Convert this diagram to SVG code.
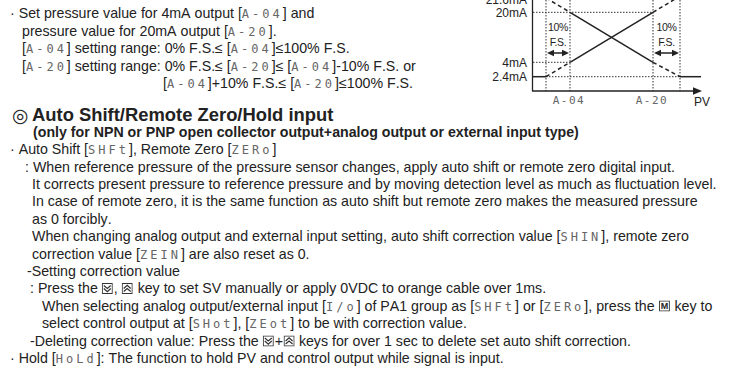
<svg xmlns="http://www.w3.org/2000/svg" width="732" height="369" viewBox="0 0 732 369">
<style>
.t{font-family:"Liberation Sans",Arial,sans-serif;font-size:14.2px;fill:#222;font-kerning:none;font-variant-ligatures:none}
.b{font-weight:bold}
.seg{font-family:"DejaVu Sans Mono",monospace;font-size:12px;fill:#666;letter-spacing:3px;font-weight:normal}
.ax{stroke:#222;stroke-width:1.3;fill:none}
.dot{stroke:#333;stroke-width:1;stroke-dasharray:1.5 1.5;fill:none}
.sol{stroke:#222;stroke-width:1.5;fill:none}
.dsh{stroke:#222;stroke-width:1.5;stroke-dasharray:4 3;fill:none}
.cl{font-family:"Liberation Sans",Arial,sans-serif;font-size:12px;fill:#222}
.sm{font-size:10.5px;letter-spacing:-0.4px}
.key{fill:#fff;stroke:#333;stroke-width:1}
.chev{fill:none;stroke:#333;stroke-width:1.2}
.ah{fill:#222}
</style>
<defs>
<symbol id="kd" viewBox="0 0 11 11" width="11" height="11"><rect class="key" x="0.5" y="0.5" width="10" height="10"/><polyline class="chev" points="2,2.5 5.5,5.5 9,2.5"/><polyline class="chev" points="2,5.5 5.5,8.8 9,5.5"/></symbol>
<symbol id="ku" viewBox="0 0 11 11" width="11" height="11"><rect class="key" x="0.5" y="0.5" width="10" height="10"/><polyline class="chev" points="2,5.5 5.5,2.2 9,5.5"/><polyline class="chev" points="2,8.5 5.5,5.5 9,8.5"/></symbol>
<symbol id="km" viewBox="0 0 11 11" width="11" height="11"><rect class="key" x="0.5" y="0.5" width="10" height="10"/><text x="5.5" y="8.8" text-anchor="middle" style="font-family:'Liberation Sans',Arial,sans-serif;font-size:9px;font-weight:bold;fill:#222">M</text></symbol>
</defs>

<g id="chart">
  <g id="guides">
    <line class="dot" x1="546" y1="-3" x2="546" y2="91"/>
    <line class="dot" x1="570" y1="-3" x2="570" y2="91"/>
    <line class="dot" x1="653" y1="-3" x2="653" y2="91"/>
    <line class="dot" x1="680" y1="-3" x2="680" y2="91"/>
    <line class="dot" x1="533" y1="-2" x2="680" y2="-2"/>
    <line class="dot" x1="533" y1="12.3" x2="653" y2="12.3"/>
    <line class="dot" x1="533" y1="62.3" x2="570" y2="62.3"/>
    <line class="dot" x1="546" y1="76.7" x2="680" y2="76.7"/>
  </g>
  <g id="curves">
    <line class="sol" x1="570" y1="62.3" x2="653" y2="12.3"/>
    <line class="sol" x1="570" y1="12.3" x2="653" y2="62.3"/>
    <line class="sol" x1="532" y1="76.7" x2="546" y2="76.7"/>
    <line class="sol" x1="680" y1="76.7" x2="701" y2="76.7"/>
    <line class="dsh" x1="546" y1="76.7" x2="570" y2="62.3"/>
    <line class="dsh" x1="653" y1="12.3" x2="680" y2="-3.9"/>
    <line class="dsh" x1="546" y1="-2.1" x2="570" y2="12.3"/>
    <line class="dsh" x1="653" y1="62.3" x2="680" y2="76.7"/>
  </g>
  <g id="axes">
    <line class="ax" x1="532.5" y1="-1" x2="532.5" y2="91"/>
    <line class="ax" x1="532" y1="91" x2="694" y2="91"/>
    <polygon class="ah" points="693,87.3 702,91 693,94.7"/>
  </g>
  <g id="span-left">
    <line class="sol" x1="553" y1="53" x2="563" y2="53"/>
    <polygon class="ah" points="547,53 554,49.8 554,56.2"/>
    <polygon class="ah" points="569,53 562,49.8 562,56.2"/>
    <text class="cl sm" x="558" y="31" text-anchor="middle">10%</text>
    <text class="cl sm" x="558" y="46" text-anchor="middle">F.S.</text>
  </g>
  <g id="span-right">
    <line class="sol" x1="660" y1="53" x2="673" y2="53"/>
    <polygon class="ah" points="654,53 661,49.8 661,56.2"/>
    <polygon class="ah" points="679,53 672,49.8 672,56.2"/>
    <text class="cl sm" x="666.5" y="31" text-anchor="middle">10%</text>
    <text class="cl sm" x="666.5" y="46" text-anchor="middle">F.S.</text>
  </g>
  <g id="chart-labels">
    <text class="cl" x="527" y="3.5" text-anchor="end">21.6mA</text>
    <text class="cl" x="527" y="16.5" text-anchor="end">20mA</text>
    <text class="cl" x="527" y="66.5" text-anchor="end">4mA</text>
    <text class="cl" x="527" y="81" text-anchor="end">2.4mA</text>
    <text class="seg" x="569" y="104" text-anchor="middle" style="font-size:11px;letter-spacing:1.5px">A-04</text>
    <text class="seg" x="652" y="104" text-anchor="middle" style="font-size:11px;letter-spacing:1.5px">A-20</text>
    <text class="cl" x="694" y="106">PV</text>
  </g>
</g>

<g id="top-text">
  <text class="t" x="10" y="18">· Set pressure value for 4mA output [<tspan class="seg">A-04</tspan>] and</text>
  <text class="t" x="22" y="35.5">pressure value for 20mA output [<tspan class="seg">A-20</tspan>].</text>
  <text class="t" x="22" y="53">[<tspan class="seg">A-04</tspan>] setting range: 0% F.S.≤ [<tspan class="seg">A-04</tspan>]≤100% F.S.</text>
  <text class="t" x="22" y="70.5">[<tspan class="seg">A-20</tspan>] setting range: 0% F.S.≤ [<tspan class="seg">A-20</tspan>]≤ [<tspan class="seg">A-04</tspan>]-10% F.S. or</text>
  <text class="t" x="163" y="88">[<tspan class="seg">A-04</tspan>]+10% F.S.≤ [<tspan class="seg">A-20</tspan>]≤100% F.S.</text>
</g>

<g id="section">
  <text x="12" y="122" style="font-family:'DejaVu Sans',sans-serif;font-size:19px;fill:#222">◎</text>
  <text class="t b" x="32" y="121" style="font-size:18.4px">Auto Shift/Remote Zero/Hold input</text>
  <text class="t b" x="33" y="136.5">(only for NPN or PNP open collector output+analog output or external input type)</text>
  <text class="t" x="10" y="154">· Auto Shift [<tspan class="seg">SHFt</tspan>], Remote Zero [<tspan class="seg">ZERo</tspan>]</text>
  <text class="t" x="25" y="171.5">: When reference pressure of the pressure sensor changes, apply auto shift or remote zero digital input.</text>
  <text class="t" x="32" y="189">It corrects present pressure to reference pressure and by moving detection level as much as fluctuation level.</text>
  <text class="t" x="32" y="206">In case of remote zero, it is the same function as auto shift but remote zero makes the measured pressure</text>
  <text class="t" x="32" y="223.5">as 0 forcibly.</text>
  <text class="t" x="32" y="241">When changing analog output and external input setting, auto shift correction value [<tspan class="seg">SHIN</tspan>], remote zero</text>
  <text class="t" x="32" y="258.5">correction value [<tspan class="seg">ZEIN</tspan>] are also reset as 0.</text>
  <text class="t" x="27" y="276">-Setting correction value</text>
  <text class="t" x="30" y="293">: Press the<tspan dx="15.95">,</tspan><tspan dx="19.9">key to set SV manually or apply 0VDC to orange cable over 1ms.</tspan></text>
  <use href="#kd" x="101.8" y="283"/>
  <use href="#ku" x="121.7" y="283"/>
  <text class="t" x="42" y="310.5">When selecting analog output/external input [<tspan class="seg">I/o</tspan>] of PA1 group as [<tspan class="seg">SHFt</tspan>] or [<tspan class="seg">ZERo</tspan>], press the<tspan dx="19.9">key to</tspan></text>
  <use href="#km" x="658.9" y="300.5"/>
  <text class="t" x="42" y="328">select control output at [<tspan class="seg">SHot</tspan>], [<tspan class="seg">ZEot</tspan>] to be with correction value.</text>
  <text class="t" x="30" y="345.5">-Deleting correction value: Press the<tspan dx="15.95">+</tspan><tspan dx="15.95">keys for over 1 sec to delete set auto shift correction.</tspan></text>
  <use href="#kd" x="262.8" y="335.5"/>
  <use href="#ku" x="283.6" y="335.5"/>
  <text class="t" x="10" y="363">· Hold [<tspan class="seg">HoLd</tspan>]: The function to hold PV and control output while signal is input.</text>
</g>
</svg>
